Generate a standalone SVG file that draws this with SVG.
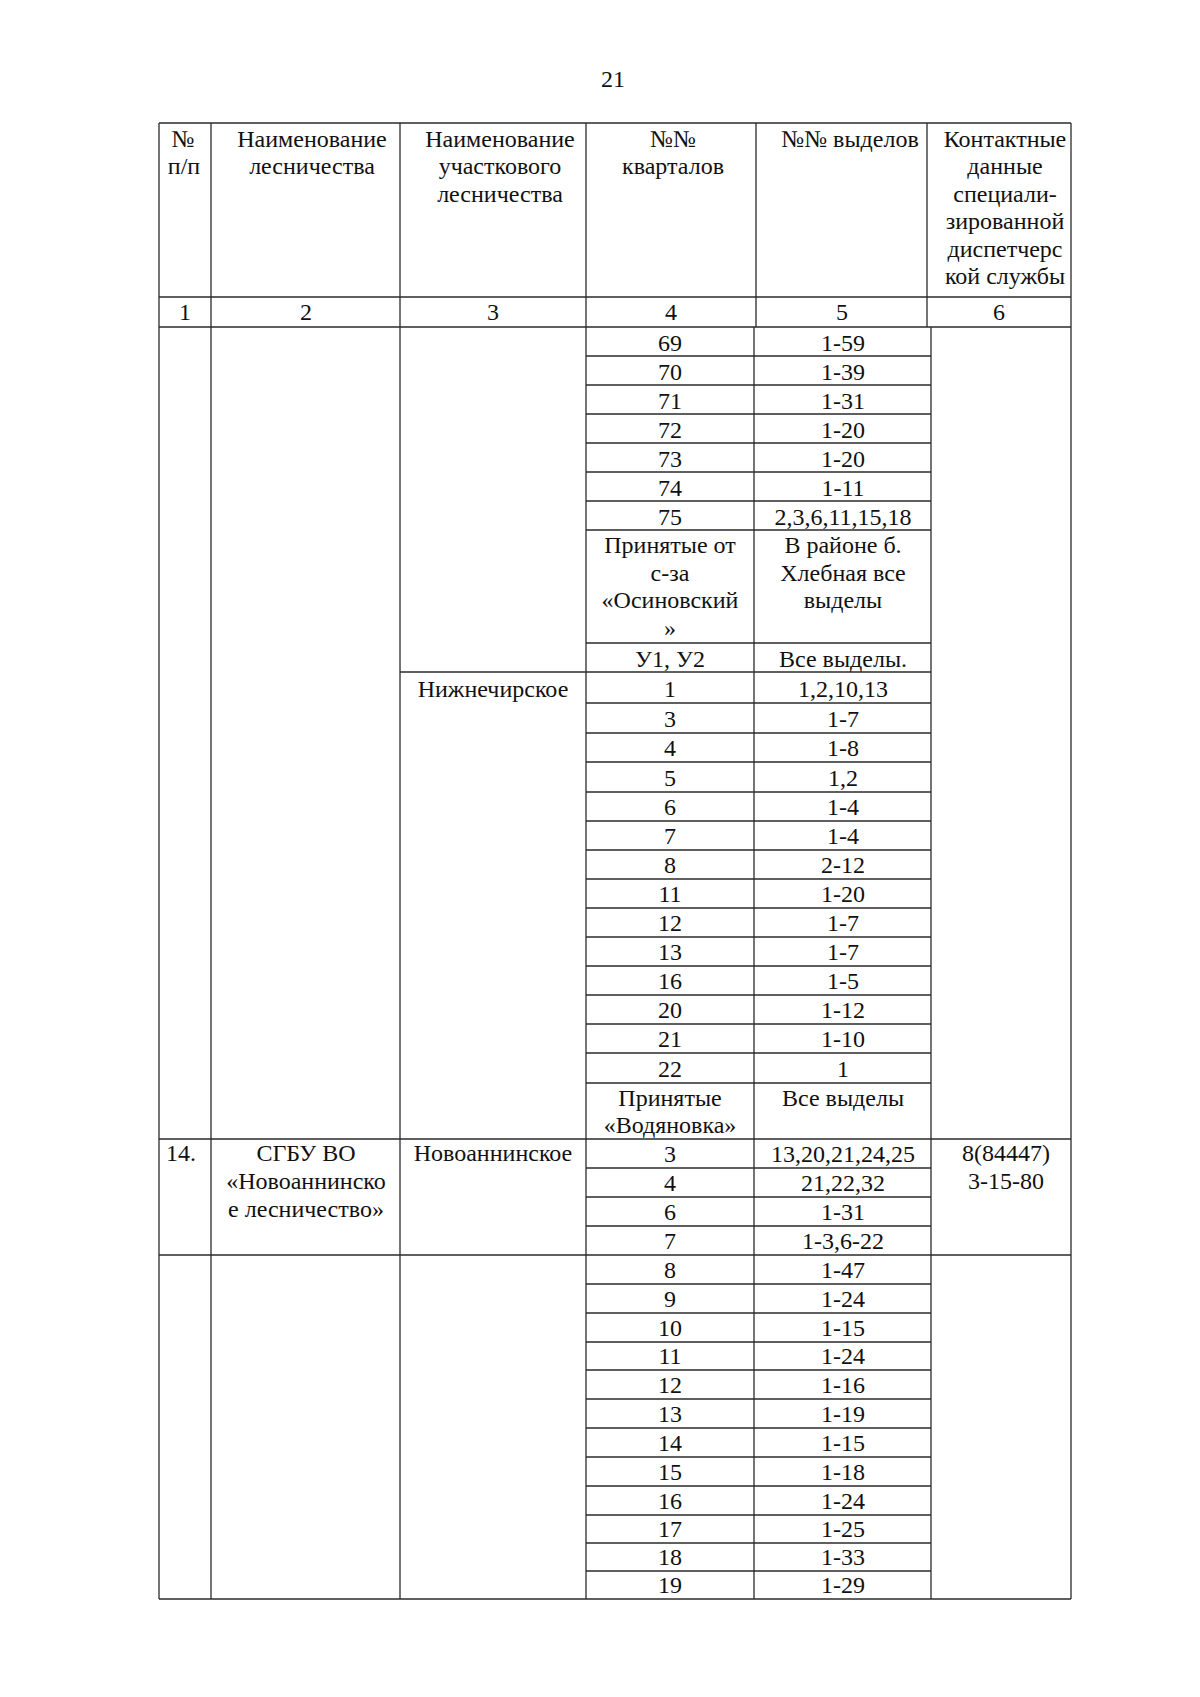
<svg xmlns="http://www.w3.org/2000/svg" width="1200" height="1697" viewBox="0 0 1200 1697">
<style>
.t{font-family:"Liberation Serif","Times New Roman",serif;font-size:24px;fill:#111;text-anchor:middle}
.g line{stroke:#2a2a2a;stroke-width:1.3}
</style>
<rect x="0" y="0" width="1200" height="1697" fill="#fff"/>
<text class="t" x="613" y="87">21</text>

<g id="grid" class="g">
<line x1="159" y1="123" x2="1071" y2="123"/>
<line x1="159" y1="297" x2="1071" y2="297"/>
<line x1="159" y1="327" x2="1071" y2="327"/>
<line x1="159" y1="123" x2="159" y2="1599"/>
<line x1="1071" y1="123" x2="1071" y2="1599"/>
<line x1="211" y1="123" x2="211" y2="1599"/>
<line x1="400" y1="123" x2="400" y2="1599"/>
<line x1="586" y1="123" x2="586" y2="1599"/>
<line x1="756" y1="123" x2="756" y2="327"/>
<line x1="927" y1="123" x2="927" y2="327"/>
<line x1="754" y1="327" x2="754" y2="1599"/>
<line x1="931" y1="327" x2="931" y2="1599"/>
<line x1="159" y1="1139" x2="1071" y2="1139"/>
<line x1="159" y1="1255" x2="1071" y2="1255"/>
<line x1="159" y1="1599" x2="1071" y2="1599"/>
<line x1="400" y1="672" x2="931" y2="672"/>
<g id="rowlines">
<line x1="586" y1="356" x2="931" y2="356"/>
<line x1="586" y1="385" x2="931" y2="385"/>
<line x1="586" y1="414" x2="931" y2="414"/>
<line x1="586" y1="443" x2="931" y2="443"/>
<line x1="586" y1="472" x2="931" y2="472"/>
<line x1="586" y1="501" x2="931" y2="501"/>
<line x1="586" y1="530" x2="931" y2="530"/>
<line x1="586" y1="643" x2="931" y2="643"/>
<line x1="586" y1="703" x2="931" y2="703"/>
<line x1="586" y1="733" x2="931" y2="733"/>
<line x1="586" y1="762" x2="931" y2="762"/>
<line x1="586" y1="792" x2="931" y2="792"/>
<line x1="586" y1="821" x2="931" y2="821"/>
<line x1="586" y1="850" x2="931" y2="850"/>
<line x1="586" y1="879" x2="931" y2="879"/>
<line x1="586" y1="908" x2="931" y2="908"/>
<line x1="586" y1="937" x2="931" y2="937"/>
<line x1="586" y1="966" x2="931" y2="966"/>
<line x1="586" y1="995" x2="931" y2="995"/>
<line x1="586" y1="1024" x2="931" y2="1024"/>
<line x1="586" y1="1053" x2="931" y2="1053"/>
<line x1="586" y1="1083" x2="931" y2="1083"/>
<line x1="586" y1="1168" x2="931" y2="1168"/>
<line x1="586" y1="1197" x2="931" y2="1197"/>
<line x1="586" y1="1226" x2="931" y2="1226"/>
<line x1="586" y1="1284" x2="931" y2="1284"/>
<line x1="586" y1="1313" x2="931" y2="1313"/>
<line x1="586" y1="1342" x2="931" y2="1342"/>
<line x1="586" y1="1370" x2="931" y2="1370"/>
<line x1="586" y1="1399" x2="931" y2="1399"/>
<line x1="586" y1="1428" x2="931" y2="1428"/>
<line x1="586" y1="1457" x2="931" y2="1457"/>
<line x1="586" y1="1486" x2="931" y2="1486"/>
<line x1="586" y1="1515" x2="931" y2="1515"/>
<line x1="586" y1="1543" x2="931" y2="1543"/>
<line x1="586" y1="1571" x2="931" y2="1571"/>
</g>
</g>

<g id="header">
<text class="t" x="183" y="147">№</text>
<text class="t" x="184" y="174">п/п</text>
<text class="t" x="312" y="147">Наименование</text>
<text class="t" x="312" y="174">лесничества</text>
<text class="t" x="500" y="147">Наименование</text>
<text class="t" x="500" y="174">участкового</text>
<text class="t" x="500" y="202">лесничества</text>
<text class="t" x="673" y="147">№№</text>
<text class="t" x="673" y="174">кварталов</text>
<text class="t" x="850" y="147">№№ выделов</text>
<text class="t" x="1005" y="147">Контактные</text>
<text class="t" x="1005" y="174">данные</text>
<text class="t" x="1005" y="202">специали-</text>
<text class="t" x="1005" y="229">зированной</text>
<text class="t" x="1005" y="257">диспетчерс</text>
<text class="t" x="1005" y="284">кой службы</text>
</g>

<g id="numrow">
<text class="t" x="185" y="320">1</text>
<text class="t" x="306" y="320">2</text>
<text class="t" x="493" y="320">3</text>
<text class="t" x="671" y="320">4</text>
<text class="t" x="842" y="320">5</text>
<text class="t" x="999" y="320">6</text>
</g>

<g id="section-a">
<text class="t" x="670" y="351">69</text><text class="t" x="843" y="351">1-59</text>
<text class="t" x="670" y="380">70</text><text class="t" x="843" y="380">1-39</text>
<text class="t" x="670" y="409">71</text><text class="t" x="843" y="409">1-31</text>
<text class="t" x="670" y="438">72</text><text class="t" x="843" y="438">1-20</text>
<text class="t" x="670" y="467">73</text><text class="t" x="843" y="467">1-20</text>
<text class="t" x="670" y="496">74</text><text class="t" x="843" y="496">1-11</text>
<text class="t" x="670" y="525">75</text><text class="t" x="843" y="525">2,3,6,11,15,18</text>
<text class="t" x="670" y="553">Принятые от</text>
<text class="t" x="670" y="581">с-за</text>
<text class="t" x="670" y="608">«Осиновский</text>
<text class="t" x="670" y="636">»</text>
<text class="t" x="843" y="553">В районе б.</text>
<text class="t" x="843" y="581">Хлебная все</text>
<text class="t" x="843" y="608">выделы</text>
<text class="t" x="670" y="667">У1, У2</text><text class="t" x="843" y="667">Все выделы.</text>
</g>

<g id="section-b">
<text class="t" x="493" y="697">Нижнечирское</text>
<text class="t" x="670" y="697">1</text><text class="t" x="843" y="697">1,2,10,13</text>
<text class="t" x="670" y="727">3</text><text class="t" x="843" y="727">1-7</text>
<text class="t" x="670" y="756">4</text><text class="t" x="843" y="756">1-8</text>
<text class="t" x="670" y="786">5</text><text class="t" x="843" y="786">1,2</text>
<text class="t" x="670" y="815">6</text><text class="t" x="843" y="815">1-4</text>
<text class="t" x="670" y="844">7</text><text class="t" x="843" y="844">1-4</text>
<text class="t" x="670" y="873">8</text><text class="t" x="843" y="873">2-12</text>
<text class="t" x="670" y="902">11</text><text class="t" x="843" y="902">1-20</text>
<text class="t" x="670" y="931">12</text><text class="t" x="843" y="931">1-7</text>
<text class="t" x="670" y="960">13</text><text class="t" x="843" y="960">1-7</text>
<text class="t" x="670" y="989">16</text><text class="t" x="843" y="989">1-5</text>
<text class="t" x="670" y="1018">20</text><text class="t" x="843" y="1018">1-12</text>
<text class="t" x="670" y="1047">21</text><text class="t" x="843" y="1047">1-10</text>
<text class="t" x="670" y="1077">22</text><text class="t" x="843" y="1077">1</text>
<text class="t" x="670" y="1106">Принятые</text>
<text class="t" x="670" y="1133">«Водяновка»</text>
<text class="t" x="843" y="1106">Все выделы</text>
</g>

<g id="row-14">
<text class="t" x="181" y="1161">14.</text>
<text class="t" x="306" y="1161">СГБУ ВО</text>
<text class="t" x="306" y="1189">«Новоаннинско</text>
<text class="t" x="306" y="1217">е лесничество»</text>
<text class="t" x="493" y="1161">Новоаннинское</text>
<text class="t" x="670" y="1162">3</text><text class="t" x="843" y="1162">13,20,21,24,25</text>
<text class="t" x="670" y="1191">4</text><text class="t" x="843" y="1191">21,22,32</text>
<text class="t" x="670" y="1220">6</text><text class="t" x="843" y="1220">1-31</text>
<text class="t" x="670" y="1249">7</text><text class="t" x="843" y="1249">1-3,6-22</text>
<text class="t" x="1006" y="1161">8(84447)</text>
<text class="t" x="1006" y="1189">3-15-80</text>
</g>

<g id="section-d">
<text class="t" x="670" y="1278">8</text><text class="t" x="843" y="1278">1-47</text>
<text class="t" x="670" y="1307">9</text><text class="t" x="843" y="1307">1-24</text>
<text class="t" x="670" y="1336">10</text><text class="t" x="843" y="1336">1-15</text>
<text class="t" x="670" y="1364">11</text><text class="t" x="843" y="1364">1-24</text>
<text class="t" x="670" y="1393">12</text><text class="t" x="843" y="1393">1-16</text>
<text class="t" x="670" y="1422">13</text><text class="t" x="843" y="1422">1-19</text>
<text class="t" x="670" y="1451">14</text><text class="t" x="843" y="1451">1-15</text>
<text class="t" x="670" y="1480">15</text><text class="t" x="843" y="1480">1-18</text>
<text class="t" x="670" y="1509">16</text><text class="t" x="843" y="1509">1-24</text>
<text class="t" x="670" y="1537">17</text><text class="t" x="843" y="1537">1-25</text>
<text class="t" x="670" y="1565">18</text><text class="t" x="843" y="1565">1-33</text>
<text class="t" x="670" y="1593">19</text><text class="t" x="843" y="1593">1-29</text>
</g>
</svg>
